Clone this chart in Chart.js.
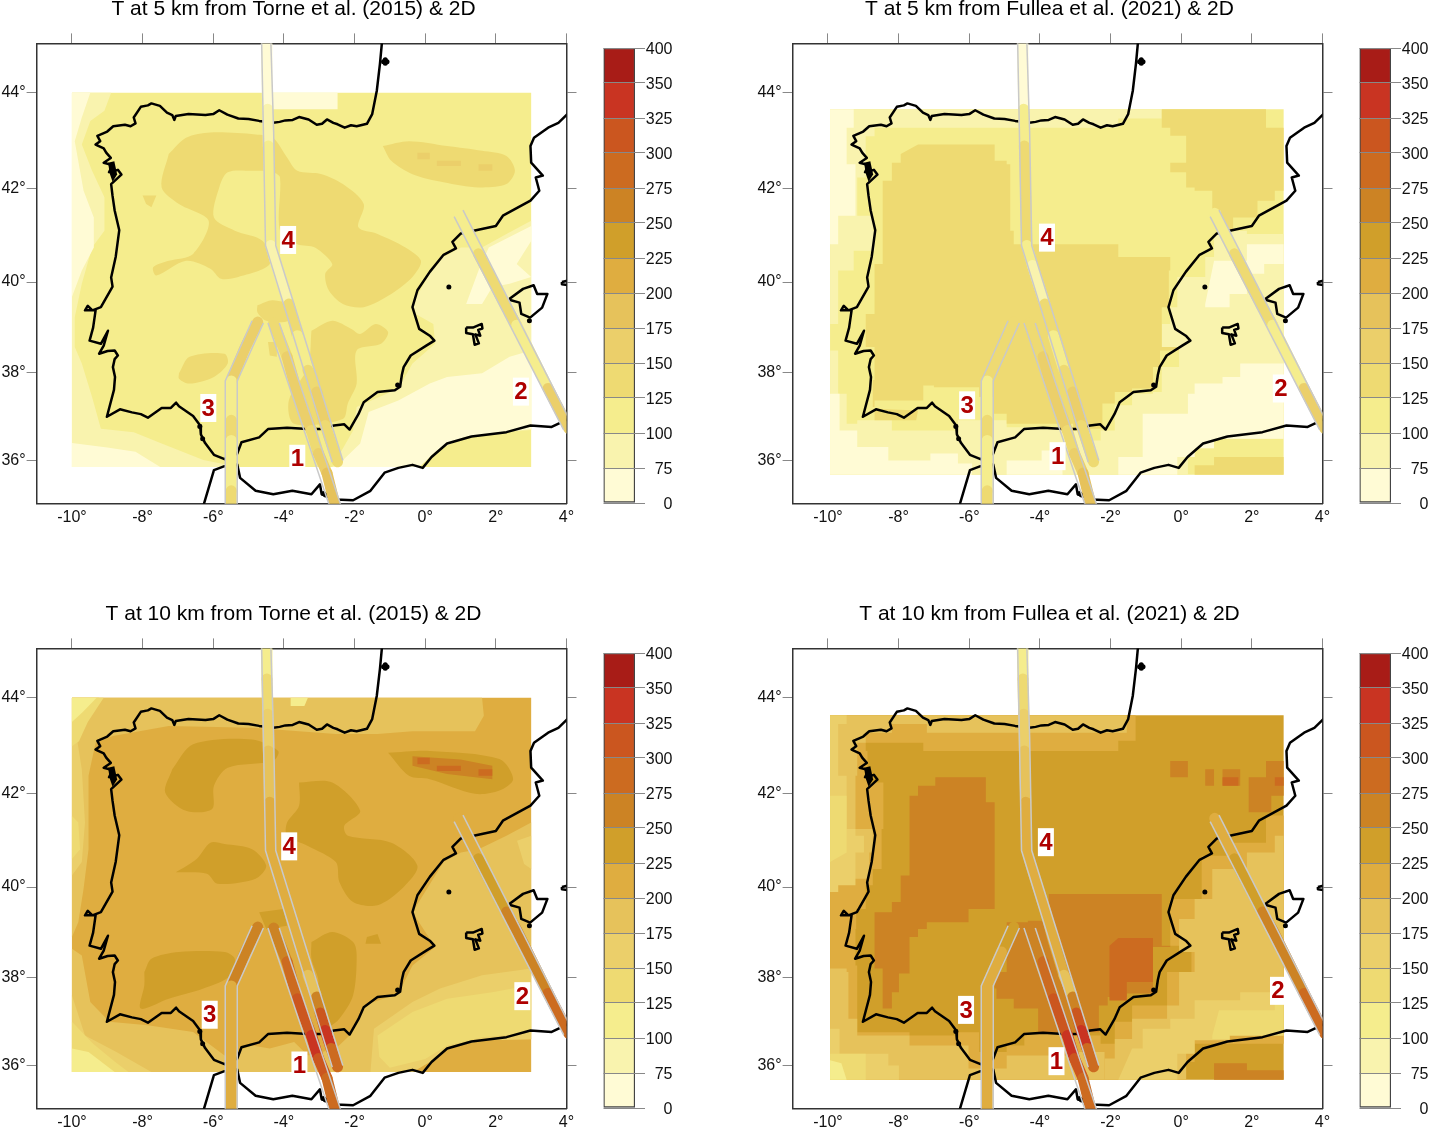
<!DOCTYPE html>
<html><head><meta charset="utf-8">
<style>html,body{margin:0;padding:0;background:#fff;width:1429px;height:1130px;overflow:hidden}canvas{position:absolute}</style>
<script src="https://cdn.jsdelivr.net/npm/chart.js@4"></script></head><body>
<canvas id="m1" style="left:0;top:0"></canvas><canvas id="b1" style="left:595px;top:38px"></canvas>
<canvas id="m2" style="left:756px;top:0"></canvas><canvas id="b2" style="left:1351px;top:38px"></canvas>
<canvas id="m3" style="left:0;top:605px"></canvas><canvas id="b3" style="left:595px;top:643px"></canvas>
<canvas id="m4" style="left:756px;top:605px"></canvas><canvas id="b4" style="left:1351px;top:643px"></canvas>
<script>
/* ---------- scales, levels ---------- */
const lonTicks=[-10,-8,-6,-4,-2,0,2,4];
const latTicks=[36,38,40,42,44];
const levelLabels=[0,75,100,125,150,175,200,225,250,275,300,325,350,400];
const levelColors=['#FFFBD5','#F9F3AE','#F5ED8D','#EEDA72','#EBCF6A','#E6C25B','#DFAD40','#D09F2A','#CC8324','#CC6B20','#CB561F','#C93422','#A81C17'];
const titles=['T at 5 km from Torne et al. (2015) & 2D','T at 5 km from Fullea et al. (2021) & 2D','T at 10 km from Torne et al. (2015) & 2D','T at 10 km from Fullea et al. (2021) & 2D'];

/* ---------- coastline (lon,lat) ---------- */
const coastIberia=[[-1.22,45.05],[-1.28,44.59],[-1.37,44.04],[-1.5,43.56],[-1.65,43.36],[-1.94,43.31],[-2.1,43.33],[-2.28,43.28],[-2.48,43.35],[-2.6,43.38],[-2.78,43.45],[-2.92,43.36],[-3.07,43.34],[-3.3,43.45],[-3.57,43.5],[-3.75,43.44],[-3.96,43.43],[-4.12,43.4],[-4.3,43.38],[-4.7,43.42],[-5.0,43.46],[-5.29,43.47],[-5.6,43.55],[-5.83,43.64],[-6.0,43.56],[-6.22,43.54],[-6.7,43.56],[-7.06,43.52],[-7.1,43.44],[-7.16,43.54],[-7.31,43.59],[-7.51,43.73],[-7.75,43.78],[-7.85,43.74],[-8.05,43.71],[-8.25,43.49],[-8.2,43.37],[-8.34,43.31],[-8.5,43.34],[-8.83,43.31],[-9.0,43.2],[-9.28,43.11],[-9.2,43.0],[-9.33,42.93],[-9.1,42.85],[-9.03,42.76],[-8.9,42.65],[-9.1,42.55],[-8.85,42.5],[-8.95,42.35],[-8.7,42.4],[-8.6,42.3],[-8.89,42.1],[-8.85,41.85],[-8.79,41.54],[-8.66,41.12],[-8.76,40.55],[-8.89,40.1],[-8.85,39.9],[-9.18,39.45],[-9.42,39.38],[-9.55,39.48],[-9.63,39.38],[-9.33,39.38],[-9.4,39.0],[-9.5,38.71],[-9.18,38.64],[-8.98,38.93],[-9.1,38.6],[-9.23,38.42],[-8.99,38.48],[-8.79,38.49],[-8.7,38.38],[-8.79,38.3],[-8.84,38.12],[-8.78,37.9],[-8.81,37.61],[-9.01,37.0],[-8.64,37.17],[-8.3,37.1],[-8.05,37.06],[-7.85,36.98],[-7.46,37.2],[-7.2,37.2],[-7.05,37.32],[-6.97,37.24],[-6.57,37.02],[-6.37,36.8],[-6.35,36.6],[-6.23,36.4],[-5.98,36.13],[-5.68,36.03],[-5.32,36.16],[-5.2,36.42],[-4.7,36.53],[-4.45,36.72],[-3.91,36.75],[-3.32,36.72],[-2.98,36.72],[-2.58,36.8],[-2.29,36.83],[-2.14,36.71],[-1.89,37.06],[-1.74,37.33],[-1.35,37.56],[-0.86,37.6],[-0.71,37.68],[-0.66,37.95],[-0.61,38.12],[-0.41,38.38],[0.03,38.6],[0.26,38.71],[0.13,38.82],[-0.17,38.97],[-0.36,39.45],[-0.22,39.82],[0.13,40.22],[0.52,40.59],[0.87,40.73],[0.77,40.87],[1.01,41.05],[2.0,41.21],[2.2,41.43],[2.98,41.75],[3.23,41.96],[3.13,42.24],[3.33,42.28],[3.0,42.55],[2.98,42.9],[3.08,43.07],[3.48,43.28],[3.77,43.38],[4.05,43.58]];
const coastAfrica=[[-6.28,34.95],[-5.98,35.78],[-5.68,35.87],[-5.32,35.91],[-5.24,35.6],[-4.8,35.3],[-4.3,35.22],[-3.76,35.3],[-3.22,35.22],[-2.98,35.45],[-2.93,35.22],[-2.53,35.1],[-2.04,35.08],[-1.55,35.3],[-1.15,35.72],[-0.76,35.83],[-0.36,35.9],[-0.07,35.83],[0.18,36.08],[0.62,36.39],[1.31,36.55],[2.3,36.65],[2.98,36.8],[3.58,36.77],[4.05,36.95]];
const isleMallorca=[[2.38,39.63],[2.77,39.85],[3.07,39.93],[3.17,39.74],[3.46,39.74],[3.31,39.44],[2.97,39.22],[2.72,39.3],[2.67,39.55],[2.43,39.6],[2.38,39.63]];
const isleMenorca=[[3.87,40.0],[4.05,40.03],[4.05,39.93],[3.87,39.95],[3.87,40.0]];
const isleIbiza=[[1.16,39.0],[1.35,39.0],[1.6,39.08],[1.62,38.98],[1.5,38.95],[1.56,38.82],[1.42,38.85],[1.52,38.65],[1.4,38.62],[1.35,38.85],[1.16,38.88],[1.16,39.0]];
const riasPatch=[[-8.98,42.55],[-8.8,42.58],[-8.72,42.3],[-8.85,42.15],[-8.92,42.3]];
const coastBlobs=[[-1.13,44.67],[-1.18,44.63],[-1.08,44.63],[-1.13,44.6],[0.67,39.89],[2.95,39.15],[-0.78,37.72],[-2.88,35.24],[-2.82,35.2],[-6.3,36.5],[-6.38,36.78]];

/* ---------- crustal temperature zones: Torne 5 km ---------- */
const a5Rect=[[-10,44],[3,44],[3,35.85],[-10,35.85]];
const a5West=[[-10,44],[-8.89,44],[-9.08,43.63],[-9.48,43.42],[-9.72,42.93],[-9.43,42.38],[-9.08,41.82],[-9.08,41.11],[-9.43,40.75],[-9.72,39.96],[-9.92,39.23],[-9.92,38.57],[-9.72,38.2],[-9.43,37.45],[-9.18,36.73],[-8.25,36.65],[-7.46,36.39],[-6.28,36.01],[-5.29,35.85],[-10,35.85]];
const a5West0=[[-10,44],[-9.48,44],[-9.72,43.49],[-9.92,43],[-9.67,41.96],[-9.38,41.39],[-9.38,40.75],[-9.72,40.25],[-10,39.67]];
const a5Sw0=[[-10,36.4],[-9,36.3],[-8.2,36.2],[-7.5,35.85],[-10,35.85]];
const a5Top0=[[-4.31,44],[-2.48,44],[-2.48,43.66],[-4.31,43.66]];
const a5Med=[[-2.63,35.85],[-2.04,36.69],[-1.94,37.22],[-0.76,37.64],[-0.36,38.2],[0.28,38.64],[0.23,39.08],[-0.27,39.3],[-0.36,39.52],[0.13,40.18],[0.52,40.54],[1.01,40.75],[1.61,40.75],[2.3,41.04],[3,41.32],[3,36.7],[2.1,36.65],[1.11,36.54],[0.33,36.23],[-0.17,35.85]];
const a5Med0=[[-2.53,35.85],[-1.84,36.39],[-1.6,37.11],[-0.76,37.37],[0.13,37.75],[0.62,37.9],[1.61,37.98],[2.39,38.35],[3,38.49],[3,36.72],[2.1,36.65],[1.11,36.54],[0.33,36.23],[-0.17,35.85]];
const a5Ne0=[[1.8,40.75],[3,41.21],[3,40.89],[2.59,40.39],[3,40.11],[2.39,39.96],[1.9,39.89],[1.61,39.52],[1.16,39.52],[1.51,40.25]];
const a5Main=[[-7.26,42.73],[-6.77,43.07],[-6.08,43.18],[-4.8,43.14],[-4.31,43.07],[-3.91,42.66],[-3.62,42.38],[-2.93,42.31],[-2.33,42.1],[-1.74,41.68],[-1.89,41.18],[-1.35,41.04],[-0.56,40.75],[-0.12,40.46],[-0.36,40.11],[-0.96,39.74],[-1.74,39.45],[-2.33,39.52],[-2.73,39.82],[-2.83,40.18],[-2.63,40.39],[-3.12,40.75],[-3.62,40.82],[-4.11,41.11],[-4.11,42.24],[-4.31,42.35],[-4.9,42.38],[-5.59,42.35],[-5.83,42.03],[-5.98,41.39],[-5.39,41.11],[-4.6,40.89],[-4.4,40.39],[-5.29,40.11],[-5.78,40.07],[-6.08,40.29],[-6.77,40.46],[-7.61,40.14],[-7.7,40.32],[-7.26,40.46],[-6.57,40.61],[-6.13,41.32],[-6.97,41.68],[-7.46,42.03],[-7.26,42.73]];
const a5Ebro=[[-1.2,42.9],[-0.46,43],[0.62,42.9],[1.61,42.8],[2.3,42.69],[2.54,42.38],[2.3,42.1],[1.51,42.03],[0.52,42.14],[-0.36,42.31],[-0.96,42.59],[-1.2,42.9]];
const a5Sl1=[[-0.22,42.76],[0.13,42.76],[0.13,42.62],[-0.22,42.62]];
const a5Sl2=[[0.33,42.59],[1.01,42.59],[1.01,42.48],[0.33,42.48]];
const a5Sl3=[[1.51,42.52],[1.9,42.52],[1.9,42.38],[1.51,42.38]];
const a5Small=[[-8,41.86],[-7.61,41.86],[-7.75,41.61],[-7.9,41.68]];
const a5Mont=[[-4.75,39.49],[-4.31,39.6],[-3.71,39.45],[-3.86,39.15],[-4.5,39.15],[-4.75,39.34],[-4.75,39.49]];
const a5Betic=[[-3.22,38.93],[-2.63,39.15],[-2.09,38.97],[-1.84,38.86],[-1.4,39.08],[-1.05,38.9],[-1.25,38.64],[-1.94,38.49],[-1.94,37.75],[-2.19,37.3],[-2.33,36.95],[-3.71,36.84],[-3.86,37.37],[-3.32,38.12],[-3.22,38.93]];
const a5Bump=[[-4.45,38.68],[-4.2,38.68],[-4.2,38.35],[-4.4,38.38]];
const a5Morena=[[-6.97,37.98],[-6.67,38.35],[-5.68,38.42],[-5.59,38.2],[-5.98,37.9],[-6.67,37.75],[-6.97,37.86],[-6.97,37.98]];

/* ---------- Fullea 5 km ---------- */
const b5Rect=[[-9.94,43.66],[2.9,43.66],[2.9,35.67],[-9.94,35.67]];
const b5North=[[-9.94,43.66],[-0.55,43.66],[-0.55,43.47],[-1.78,43.28],[-7.3,43.28],[-8.68,43.1],[-8.93,42.9],[-8.93,42.24],[-9.17,41.43],[-8.73,41.11],[-8.68,40.68],[-9.27,40.25],[-9.71,39.08],[-9.94,38.9]];
const b5South=[[-9.94,38.49],[-9.71,38.35],[-9.71,37.52],[-9.47,36.84],[-9.17,36.92],[-8.68,36.92],[-8.19,36.69],[-6.81,36.69],[-6.32,36.92],[-4.94,36.76],[-2.57,36.46],[-2.28,36.69],[-1.88,37.26],[-1.39,37.52],[-0.8,37.56],[-0.55,38.12],[-0.06,38.49],[-0.31,38.57],[-0.55,39.08],[-0.31,39.45],[-0.11,40.11],[0.68,40.54],[0.93,41.04],[1.42,41.11],[1.86,41.04],[2.9,41.07],[2.9,36.5],[2.4,36.5],[0.93,36.28],[0.38,36.08],[0.19,35.67],[-9.94,35.67]];
const b5West0=[[-9.94,43.66],[-8.68,43.66],[-9.27,43.28],[-9.47,42.52],[-9.22,41.43],[-9.71,40.82],[-9.94,40.75]];
const b5Sea0a=[[0.93,40.46],[1.86,40.82],[2.9,41.04],[2.9,40.39],[2.35,40.18],[1.86,39.74],[1.37,39.45],[0.68,39.52]];
const b5Sea0b=[[-1.78,35.67],[-1.78,36.08],[-1.09,37.07],[0.19,37.52],[0.38,37.75],[1.17,37.9],[1.67,38.2],[2.9,38.27],[2.9,36.5],[2.4,36.5],[0.93,36.28],[0.38,36.08],[-0.11,35.67]];
const b5Sw0=[[-9.94,37.52],[-9.67,36.69],[-9.17,36.31],[-8.29,36],[-7.1,36.16],[-6.32,35.93],[-5.92,35.67],[-9.94,35.67]];
const b5S0=[[-4.94,36],[-3.95,36.23],[-3.36,36],[-3.36,35.67],[-4.94,35.67]];
const b5Main=[[-7.45,42.93],[-5.53,42.93],[-5.28,42.59],[-4.94,42.52],[-4.84,41.11],[-4.74,40.82],[-3.36,40.82],[-2.37,40.82],[-1.78,40.54],[-0.31,40.25],[-0.35,39.45],[-0.55,39.08],[-0.55,38.57],[-0.06,38.49],[-0.6,38.12],[-0.8,37.64],[-1.39,37.56],[-1.88,37.3],[-2.23,36.73],[-2.57,36.69],[-3.06,36.84],[-4.94,37.07],[-5.33,37.45],[-5.72,37.67],[-7,37.71],[-7.3,37.37],[-8.68,37.22],[-8.73,37.83],[-8.68,38.57],[-8.93,39.3],[-8.68,39.74],[-8.68,40.39],[-8.45,40.68],[-8.45,42.17],[-8.19,42.55],[-7.94,42.73]];
const b5Ne=[[-0.55,43.66],[2.4,43.66],[2.4,43.28],[2.9,43.28],[2.9,41.96],[2.65,41.75],[2.16,41.39],[1.47,41.14],[1.12,41.54],[0.88,41.96],[0.38,42.03],[0.14,42.35],[-0.31,42.38],[-0.31,42.55],[0.14,42.55],[0.14,43.11],[-0.31,43.28],[-0.55,43.48]];
const b5Sal=[[0.19,35.67],[0.38,35.89],[0.93,36.08],[2.9,36.08],[2.9,35.67]];
const b5Alg=[[-8.68,37.18],[-7.45,37.14],[-7.5,36.92],[-8.68,36.92]];

/* ---------- Torne 10 km ---------- */
const a10Rect=a5Rect;
const a10Main=[[-10,44],[1.61,44],[1.66,43.63],[1.41,43.31],[-0.36,43.31],[-1.35,43.25],[-2.53,43.25],[-4.9,43.38],[-7.26,43.42],[-8.84,43.21],[-9.33,43.07],[-9.53,42.38],[-9.53,40.82],[-9.67,39.96],[-9.82,39.23],[-10,38.9],[-10,38.64],[-9.72,38.49],[-9.48,37.45],[-8.94,37],[-7.85,36.92],[-6.57,36.77],[-5.68,36.23],[-4.9,36.46],[-4.4,36.39],[-3.71,36.54],[-3.32,36.23],[-2.53,36.39],[-2.14,36.69],[-1.74,37.37],[-0.76,37.64],[-0.36,38.27],[0.28,38.68],[-0.36,39.45],[0.52,40.54],[1.01,40.75],[1.51,40.82],[2.3,41.11],[3,41.39],[3,36.6],[1.61,36.58],[0.62,36.39],[0.13,36.08],[-0.36,35.85],[-10,35.85]];
const a10W=[[-10,44],[-9.23,44],[-9.72,43.63],[-9.87,43.21],[-9.72,42.52],[-9.63,41.39],[-9.72,40.54],[-10,40.25]];
const a10Sw=[[-10,37.6],[-9.63,36.69],[-8.74,36.31],[-7.75,35.85],[-10,35.85]];
const a10Sea=[[-1.55,35.85],[-1.45,36.84],[-0.36,37.45],[0.42,37.75],[1.61,38.05],[3,38.2],[3,36.6],[1.61,36.58],[0.62,36.39],[0.13,36.08],[-0.36,35.85]];
const a10Ne=[[2.6,41],[3,41.11],[3,40.39],[2.8,40.5]];
const a10W3=[[-10,44],[-9.1,44],[-9.55,43.5],[-9.8,43.1],[-10,43]];
const a10W3b=[[-10,41.53],[-9.82,41.39],[-9.77,40.82],[-10,40.61]];
const a10Sw3=[[-10,37],[-9.4,36.5],[-8.8,36.1],[-8.4,35.85],[-10,35.85]];
const a10Sea3=[[-1.35,36.69],[-0.36,37.22],[0.62,37.52],[1.9,37.67],[3,37.83],[3,36.75],[1.61,36.65],[0.62,36.46],[0,36.15],[-1,35.95],[-1.3,36.2]];
const a10Nw2=[[-10,44],[-9.3,44],[-9.7,43.7],[-10,43.5]];
const a10Sw2=[[-10,36.39],[-9.53,36.31],[-8.79,35.85],[-10,35.85]];
const a10Top2=[[-3.81,44],[-3.32,44],[-3.42,43.83],[-3.81,43.83]];
const a10A=[[-7.16,42.52],[-6.57,43.04],[-4.9,43.14],[-4.16,42.9],[-4.31,42.69],[-5.59,42.55],[-5.98,42.17],[-6.03,41.68],[-6.77,41.64],[-7.36,42.03],[-7.16,42.52]];
const a10B=[[-1.05,42.86],[0.13,42.9],[2.1,42.73],[2.49,42.31],[2.1,42.07],[1.41,42],[0.13,42.31],[-0.46,42.38],[-1.05,42.86]];
const a10B8=[[-0.36,42.79],[1.0,42.72],[1.9,42.59],[1.9,42.31],[0.62,42.42],[-0.36,42.59]];
const a10C=[[-3.57,42.24],[-2.63,42.24],[-1.84,41.64],[-2.29,41.32],[-2.19,41.11],[-0.96,40.96],[-0.22,40.46],[-0.66,39.96],[-1.35,39.6],[-2.04,39.67],[-2.43,40.11],[-2.53,40.54],[-3.32,40.89],[-3.91,41.11],[-3.91,41.39],[-3.57,41.75],[-3.57,42.24]];
const a10D=[[-7.06,40.32],[-6.47,40.61],[-6.08,40.96],[-5.68,40.93],[-4.9,40.82],[-4.5,40.46],[-4.8,40.18],[-5.88,40.07],[-6.18,40.29],[-7.06,40.32]];
const a10E=[[-4.7,39.45],[-4.01,39.52],[-3.91,39.15],[-4.5,39.08]];
const a10F=[[-3.22,38.79],[-2.63,39.01],[-2.04,38.79],[-1.94,38.49],[-2.04,37.6],[-2.43,37.07],[-2.73,36.92],[-3.22,37.45],[-3.02,37.9],[-3.22,38.42],[-3.22,38.79]];
const a10G=[[-1.65,38.9],[-1.35,38.97],[-1.25,38.75],[-1.69,38.75]];
const a10H=[[-7.95,38.12],[-7.75,38.42],[-6.97,38.57],[-5.68,38.57],[-5.39,38.42],[-5.49,38.05],[-6.28,37.75],[-7.26,37.52],[-8.05,37.3],[-7.95,37.83],[-7.95,38.12]];

/* ---------- Fullea 10 km ---------- */
const b10Rect=[[-9.94,43.64],[2.9,43.64],[2.9,35.67],[-9.94,35.67]];
const b10Margin=[[-9.94,43.64],[-1.29,43.64],[-1.29,43.11],[-1.78,42.9],[-4.15,42.9],[-7.3,43.07],[-8.68,43.07],[-8.93,42.9],[-8.88,42.24],[-8.43,41.25],[-8.48,40.39],[-8.73,40.04],[-8.93,39.52],[-9.2,39.08],[-9.22,38.27],[-9.17,36.76],[-7.69,36.69],[-6.41,36.76],[-5.72,36.31],[-4.94,36.46],[-4.44,36.76],[-3.36,36.69],[-2.28,36.5],[-1.88,37],[-1.39,37.37],[-0.6,37.37],[-0.4,38.12],[0.29,38.71],[-0.31,39.23],[-0.31,39.74],[0.58,40.68],[1.47,40.96],[2.4,41.54],[2.9,41.43],[2.9,36.5],[2.4,36.5],[0.38,36.08],[0.14,35.67],[-9.94,35.67]];
const b10N5=[[-9.94,43.64],[-1.54,43.64],[-1.54,43.28],[-4.94,43.28],[-7.2,43.28],[-7.2,43.46],[-7.89,43.46],[-8.19,43.28],[-8.93,43.07],[-9.17,42.38],[-9.22,41.25],[-8.73,40.75],[-8.83,40.18],[-9.71,39.89],[-9.94,39.15]];
const b10Sw5=[[-9.94,38.2],[-9.47,38.12],[-9.42,37.07],[-9.17,36.69],[-7.69,36.46],[-6.32,36.46],[-6.02,35.93],[-5.43,35.93],[-4.94,36.23],[-3.06,36.31],[-2.17,36.16],[-2.17,35.67],[-9.94,35.67]];
const b10Sea5=[[-2.17,35.67],[-2.17,36.16],[-1.88,36.61],[-1.39,37.07],[-0.4,37.37],[-0.06,38.12],[0.38,38.57],[-0.06,39.3],[0.38,39.74],[0.88,40.39],[1.86,40.75],[2.65,41.11],[2.9,41.11],[2.9,36.69],[1.37,36.61],[0.38,36.31],[0.14,35.67]];
const b10W4=[[-9.94,43.64],[-8.93,43.64],[-9.47,43.46],[-9.71,43.07],[-9.71,42.38],[-9.47,41.25],[-9.22,41.11],[-8.98,40.75],[-9.22,40.04],[-9.71,39.89],[-9.94,39.67]];
const b10W3=[[-9.94,41.96],[-9.47,41.96],[-9.47,40.75],[-9.94,40.54]];
const b10Sea4=[[-1.39,36.39],[-1.09,36.84],[-0.31,37.07],[0.38,37.49],[1.67,37.67],[2.9,37.9],[2.9,36.69],[1.37,36.58],[0.38,36.27],[-0.11,35.67],[-1.78,35.67]];
const b10Sea3=[[1.07,37.26],[2.65,37.45],[2.9,36.69],[1.37,36.61],[0.88,36.69]];
const b10Sw4=[[-9.94,36.84],[-9.67,36.27],[-8.29,36],[-7.99,35.67],[-9.94,35.67]];
const b10Sw3=[[-9.94,36.27],[-9.47,36.27],[-8.93,35.89],[-8.93,35.67],[-9.94,35.67]];
const b10Sw2=[[-9.94,36.12],[-9.62,36.05],[-9.47,35.67],[-9.94,35.67]];
const b10Sal8=[[0.93,35.67],[0.93,36.05],[1.86,36.05],[1.86,35.89],[2.9,35.89],[2.9,35.67]];
const b10Main8=[[-6.96,42.35],[-5.77,42.35],[-5.53,42.17],[-5.53,41.82],[-5.28,41.79],[-5.28,39.52],[-6.02,39.23],[-7.2,39.08],[-7.45,38.9],[-7.69,38.71],[-7.69,38.09],[-7.99,38.09],[-7.99,37.67],[-8.19,37.52],[-8.19,37.3],[-8.45,37.3],[-8.45,38.2],[-8.68,38.57],[-8.68,39.45],[-8.19,39.67],[-7.94,40.25],[-7.69,40.39],[-7.69,41.96],[-7.45,42.17],[-6.96,42.17]];
const b10South8=[[-4.94,39.23],[-4.34,39.26],[-3.75,39.85],[-1.54,39.85],[-0.55,39.67],[-0.55,38.71],[-0.31,38.68],[-0.8,37.64],[-1.54,37.56],[-2.08,37.37],[-2.33,36.76],[-3.36,36.76],[-4.05,37.3],[-4.74,37.52],[-5.23,37.75],[-5.28,38.12],[-4.94,38.49]];
const b10South9=[[-1.78,38.88],[-1.04,38.88],[-0.8,38.68],[-0.8,37.9],[-1.54,37.48],[-2.03,37.75],[-2.03,38.71]];
const b10Ne1=[[-0.31,42.69],[0.19,42.69],[0.19,42.35],[-0.31,42.35]];
const b10Ne2=[[0.68,42.52],[0.93,42.52],[0.93,42.17],[0.68,42.17]];
const b10Ne3=[[1.17,42.52],[1.67,42.52],[1.67,42.17],[1.17,42.17]];
const b10Ne4=[[1.91,42.35],[2.4,42.69],[2.65,42.69],[2.9,42.52],[2.9,41.96],[2.55,41.61],[1.91,41.61]];
const b10Ne9a=[[2.65,42.35],[2.9,42.35],[2.9,42.17],[2.65,42.17]];
const b10Ne9b=[[1.17,42.35],[1.62,42.35],[1.62,42.17],[1.17,42.17]];

/* [temperature, polygon, rounded outline?] painted bottom to top */
const zones1=[[110,a5Rect],[90,a5West],[50,a5West0],[50,a5Sw0],[50,a5Top0],[90,a5Med],[50,a5Med0],[50,a5Ne0],[140,a5Main,1],[140,a5Ebro,1],[160,a5Sl1],[160,a5Sl2],[160,a5Sl3],[140,a5Small],[140,a5Mont,1],[140,a5Betic,1],[140,a5Bump],[140,a5Morena,1]];
const zones2=[[110,b5Rect],[90,b5North],[90,b5South],[50,b5West0],[50,b5Sea0a],[50,b5Sea0b],[50,b5Sw0],[50,b5S0],[140,b5Main],[140,b5Ne],[140,b5Sal],[140,b5Alg]];
const zones3=[[210,a10Rect],[190,a10Main],[160,a10W],[160,a10Sw],[160,a10Sea],[160,a10Ne],[140,a10W3],[140,a10W3b],[140,a10Sw3],[140,a10Sea3],[110,a10Nw2],[110,a10Sw2],[110,a10Top2],[240,a10A,1],[240,a10B,1],[260,a10B8],[240,a10C,1],[240,a10D,1],[240,a10E],[240,a10F,1],[240,a10G],[240,a10H,1],[290,a5Sl1],[290,a5Sl2],[290,a5Sl3]];
const zones4=[[240,b10Rect],[210,b10Margin],[190,b10N5],[190,b10Sw5],[190,b10Sea5],[160,b10W4],[140,b10W3],[160,b10Sea4],[140,b10Sea3],[160,b10Sw4],[140,b10Sw3],[110,b10Sw2],[260,b10Sal8],[260,b10Main8],[260,b10South8],[280,b10South9],[260,b10Ne1],[260,b10Ne2],[260,b10Ne3],[260,b10Ne4],[280,b10Ne9a],[280,b10Ne9b]];

/* ---------- transects: centre lines and edges ---------- */
const track1=[[-4.29,39.1],[-3.91,38.35],[-3.62,37.52],[-3.22,36.69],[-3.02,36.16],[-2.78,35.71],[-2.55,34.95]];
const track1L=[[-4.45,39.1],[-2.71,34.95]];
const track1R=[[-4.13,39.1],[-2.38,34.95]];
const track2=[[0.95,41.48],[1.51,40.61],[2.3,39.45],[2.59,39.05],[3.48,37.64],[4.07,36.73]];
const track2L=[[0.82,41.41],[3.92,36.7]];
const track2R=[[1.07,41.55],[4.17,36.8]];
const track3=[[-4.74,39.12],[-5.09,38.57],[-5.49,37.81],[-5.49,36.92],[-5.49,36.46],[-5.49,35.3],[-5.49,34.95]];
const track3L=[[-4.9,39.15],[-5.66,37.81],[-5.66,34.95]];
const track3R=[[-4.58,39.1],[-5.32,37.81],[-5.32,34.95]];
const track4=[[-4.5,45.05],[-4.48,44.38],[-4.46,43.66],[-4.44,42.9],[-4.4,41.82],[-4.37,40.79],[-4.21,40.36],[-3.86,39.52],[-3.62,38.82],[-3.32,38.05],[-3.07,37.56],[-2.97,37.2],[-2.83,36.8],[-2.66,36.39],[-2.48,35.97]];
const track4L=[[-4.63,45.05],[-4.58,43.2],[-4.52,40.79],[-2.63,35.96]];
const track4R=[[-4.37,45.05],[-4.29,43.2],[-4.23,40.79],[-2.33,36]];

/* transect temperature per section, one list per panel */
const t1Panel=[[140,160,160,140,160,190],[140,160,160,140,160,190],[260,280,310,340,310,280],[260,280,310,340,310,280]];
const t2Panel=[[110,140,140,105,150],[110,140,140,105,150],[210,230,260,260,285],[210,230,260,260,285]];
const t3Panel=[[160,150,110,140,120,140],[140,140,110,140,120,140],[260,250,210,210,210,210],[240,210,200,200,200,210]];
const t4Panel=[[50,50,90,110,110,90,90,140,110,140,160,160,140,140],[50,50,110,140,140,110,90,140,110,140,160,160,140,140],[110,140,160,190,210,210,210,210,210,190,260,310,340,290],[110,140,160,190,210,210,210,210,210,190,260,310,340,290]];

/* transect number labels: lon,lat per panel */
const numberNames=['1','2','3','4'];
const numberSpots=[
 [[-3.62,36.04],[2.71,37.57],[-6.14,37.2],[-3.88,40.91]],
 [[-3.5,36.1],[2.82,37.64],[-6.06,37.26],[-3.8,40.96]],
 [[-3.56,36.0],[2.75,37.58],[-6.1,37.16],[-3.85,40.88]],
 [[-3.53,36.1],[2.74,37.7],[-6.09,37.27],[-3.83,40.97]]];

/* ---------- helpers ---------- */
const FONT='"Liberation Sans", Arial, sans-serif';
const merc=lat=>Math.log(Math.tan(Math.PI/4+lat*Math.PI/360));
const unmerc=m=>(2*Math.atan(Math.exp(m))-Math.PI/2)*180/Math.PI;
const pts=a=>a.map(p=>({x:p[0],y:merc(p[1])}));
const colorOf=T=>{let i=0;while(i<levelColors.length-1&&T>=levelLabels[i+1])i++;return levelColors[i];};
const base={showLine:true,pointRadius:0,tension:0,spanGaps:true};
const frame={display:true,color:'#333',width:1.5};
const HEIGHT=525,WIDTH=587;
function axis(pos,extra){
  const isX=pos==='top'||pos==='bottom';
  const dim=isX?{min:-11,max:4}:{min:merc(35),max:merc(45)};
  return Object.assign({type:'linear',position:pos,axis:isX?'x':'y',border:frame,
    grid:{display:true,drawOnChartArea:false,drawTicks:pos!=='bottom',tickLength:10,tickColor:'#888',tickWidth:1},
    ticks:{display:false,autoSkip:false,maxRotation:0,minRotation:0},
    afterBuildTicks:s=>{s.ticks=isX?lonTicks.map(v=>({value:v})):latTicks.map(v=>({value:merc(v)}));}},dim,extra);
}
function mapChart(n){
  const p=n-1,ds=[];
  const stepped=(n%2===0);
  const zones={1:zones1,2:zones2,3:zones3,4:zones4}[n];
  zones.forEach(z=>ds.push(Object.assign({},base,{data:pts(z[1]),borderWidth:0,borderColor:'transparent',backgroundColor:colorOf(z[0]),fill:'shape',tension:z[2]?0.3:0,stepped:(stepped&&z[1].length>4)?true:false})));
  [coastIberia,coastAfrica,isleMallorca,isleMenorca,isleIbiza].forEach(c=>ds.push(Object.assign({},base,{data:pts(c),borderColor:'#000',borderWidth:2.5,fill:false,borderJoinStyle:'round'})));
  ds.push(Object.assign({},base,{data:pts(riasPatch),borderWidth:0,borderColor:'#000',backgroundColor:'#000',fill:'shape'}));
  ds.push({showLine:false,data:pts(coastBlobs),pointRadius:2.5,pointBackgroundColor:'#000',pointBorderWidth:0});
  [[track2,t2Panel],[track3,t3Panel],[track1,t1Panel],[track4,t4Panel]].forEach(t=>{
    const vals=t[1][p];
    ds.push(Object.assign({},base,{data:pts(t[0]),borderWidth:11,borderCapStyle:'round',borderJoinStyle:'round',borderColor:colorOf(vals[0]),fill:false,
      segment:{borderColor:c=>colorOf(vals[c.p0DataIndex])}}));
  });
  [track1L,track1R,track2L,track2R,track3L,track3R,track4L,track4R].forEach(e=>ds.push(Object.assign({},base,{data:pts(e),borderWidth:1.5,borderColor:'#C9C9C9',fill:false})));
  ds.reverse();
  const numbersPlugin={id:'numbers',afterDatasetsDraw(ch){
    const c=ch.ctx;c.save();
    numberSpots[p].forEach((s,i)=>{
      const x=ch.scales.x.getPixelForValue(s[0]),y=ch.scales.y.getPixelForValue(merc(s[1]));
      c.fillStyle='#fff';c.fillRect(x-8,y-14,16,28);
      c.fillStyle='#AE0000';c.font='bold 24px '+FONT;c.textAlign='center';c.textBaseline='middle';
      c.fillText(numberNames[i],x,y+1);
    });
    c.restore();
  }};
  new Chart(document.getElementById('m'+n),{type:'scatter',data:{datasets:ds},plugins:[numbersPlugin],options:{
    responsive:false,animation:false,events:[],layout:{padding:0,autoPadding:false},
    plugins:{legend:{display:false},tooltip:{enabled:false},
      title:{display:true,text:titles[p],color:'#000',padding:0,font:{family:FONT,size:21,weight:'normal',lineHeight:18/21}}},
    scales:{
      x:axis('bottom',{ticks:{display:true,autoSkip:false,maxRotation:0,padding:4,color:'#111',font:{family:FONT,size:16},callback:v=>v+'°'},afterFit:s=>{s.height=HEIGHT-503.7;}}),
      x2:axis('top',{afterFit:s=>{s.height=25.4;}}),
      y:axis('left',{ticks:{display:true,autoSkip:false,padding:1,color:'#111',font:{family:FONT,size:16},callback:v=>Math.round(unmerc(v))+'°'},afterFit:s=>{s.width=36.6;}}),
      y2:axis('right',{afterFit:s=>{s.width=WIDTH-566.5;}})
    }}});
}
function barChart(n){
  const ds=levelColors.map((col,i)=>({data:[1],backgroundColor:col,borderColor:'#444',borderSkipped:false,
    borderWidth:{left:1.5,right:1.5,top:i===levelColors.length-1?1.5:0,bottom:i===0?1.5:0},barPercentage:1,categoryPercentage:1}));
  new Chart(document.getElementById('b'+n),{type:'bar',data:{labels:['T'],datasets:ds},options:{
    responsive:false,animation:false,events:[],layout:{padding:{left:8.5,right:0.5,top:10,bottom:11},autoPadding:false},
    plugins:{legend:{display:false},tooltip:{enabled:false},title:{display:false}},
    scales:{
      x:{stacked:true,display:false},
      y:{stacked:true,position:'right',min:0,max:levelColors.length,
        border:{display:false},
        grid:{z:1,color:'#888',lineWidth:1,drawTicks:true,tickLength:10,tickColor:'#888'},
        ticks:{stepSize:1,autoSkip:false,padding:0,crossAlign:'far',labelOffset:1.5,color:'#111',font:{family:FONT,size:16},callback:v=>levelLabels[v]},
        afterFit:s=>{s.width=37.5;}}
    }}});
}
[1,2,3,4].forEach(n=>{
  const m=document.getElementById('m'+n);m.width=WIDTH;m.height=HEIGHT;
  const b=document.getElementById('b'+n);b.width=78;b.height=476;
  mapChart(n);barChart(n);
});
</script></body></html>
